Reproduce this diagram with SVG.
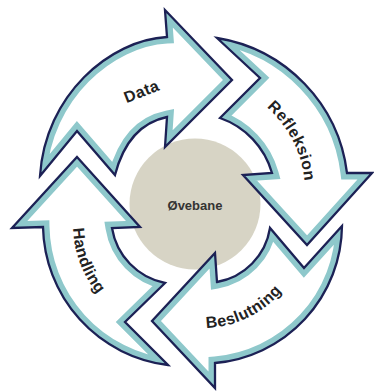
<svg xmlns="http://www.w3.org/2000/svg" xmlns:xlink="http://www.w3.org/1999/xlink" width="374" height="392" viewBox="0 0 374 392">
<style>
.bg{fill:#ffffff}
.fill{fill:#ffffff}
.teal{fill:none;stroke:#8ec8cb;stroke-width:13;stroke-linejoin:miter}
.edge{fill:none;stroke:#1c2155;stroke-width:2.3;stroke-linejoin:miter}
.lbl{font-family:"Liberation Sans",Arial,sans-serif;font-weight:bold;font-size:16px;letter-spacing:0.4px;fill:#222222}
.ctr{font-family:"Liberation Sans",Arial,sans-serif;font-weight:bold;font-size:13px;fill:#333333;text-anchor:middle}
</style>
<defs>
<path id="pData" d="M40,176 L77,131 L115,175 Q128,125 167,117 L165,147 L232,80 L165,10 L167,37 C110,40 45,95 40,176 Z"/>
<path id="pRef" d="M217,38 L260,78 L220,118 A82,82 0 0 1 272,173 L243,175 L307,245 L372,173 L347,173 A156,156 0 0 0 217,38 Z"/>
<path id="pBes" d="M342,226 L304,268 L270,228 A65,65 0 0 1 217,282 L215,253 L152,321 L215,388 L215,363 A139,139 0 0 0 342,226 Z"/>
<path id="pHan" d="M77,157 L140,227 L112,228 A67,67 0 0 0 165,283 L125,322 L168,365 A142,142 0 0 1 43,227 L12,228 Z"/>
<clipPath id="cData"><use xlink:href="#pData"/></clipPath>
<clipPath id="cRef"><use xlink:href="#pRef"/></clipPath>
<clipPath id="cBes"><use xlink:href="#pBes"/></clipPath>
<clipPath id="cHan"><use xlink:href="#pHan"/></clipPath>
<path id="tRef" d="M248.5,94.1 A113,113 0 0 1 304.6,201.8"/>
<path id="tBes" d="M185.1,326.4 A103,103 0 0 0 299.8,260.2"/>
<path id="tHan" d="M74.7,204.6 A112,112 0 0 0 113,309.8"/>
</defs>
<rect class="bg" x="0" y="0" width="374" height="392"/>
<g id="ovebane">
<circle cx="195" cy="204" r="65.5" fill="#d7d4c5"/>
<text class="ctr" x="195" y="210">Øvebane</text>
</g>
<g id="data">
<use xlink:href="#pData" class="fill"/>
<use xlink:href="#pData" class="teal" clip-path="url(#cData)"/>
<use xlink:href="#pData" class="edge"/>
<text class="lbl" text-anchor="middle" transform="translate(143.5,96.5) rotate(-21.5)">Data</text>
</g>
<g id="refleksion">
<use xlink:href="#pRef" class="fill"/>
<use xlink:href="#pRef" class="teal" clip-path="url(#cRef)"/>
<use xlink:href="#pRef" class="edge"/>
<text class="lbl" text-anchor="middle"><textPath xlink:href="#tRef" startOffset="65">Refleksion</textPath></text>
</g>
<g id="beslutning">
<use xlink:href="#pBes" class="fill"/>
<use xlink:href="#pBes" class="teal" clip-path="url(#cBes)"/>
<use xlink:href="#pBes" class="edge"/>
<text class="lbl" text-anchor="middle"><textPath xlink:href="#tBes" startOffset="64.7">Beslutning</textPath></text>
</g>
<g id="handling">
<use xlink:href="#pHan" class="fill"/>
<use xlink:href="#pHan" class="teal" clip-path="url(#cHan)"/>
<use xlink:href="#pHan" class="edge"/>
<text class="lbl" text-anchor="middle"><textPath xlink:href="#tHan" startOffset="59.6">Handling</textPath></text>
</g>
<g id="connectors"></g>
</svg>
